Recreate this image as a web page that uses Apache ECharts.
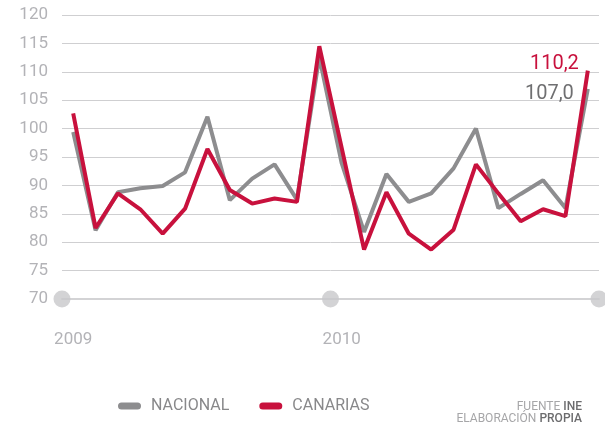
<!DOCTYPE html>
<html>
<head>
<meta charset="utf-8">
<script src="https://cdn.jsdelivr.net/npm/echarts@6/dist/echarts.min.js"></script>
<style>
	html, body { margin: 0; padding: 0; background: #ffffff; }
	#chart { width: 605px; height: 423px; }
</style>
</head>
<body>
<div id="chart"></div>
<script>
const months = [
	'2009-01', '2009-02', '2009-03', '2009-04', '2009-05', '2009-06',
	'2009-07', '2009-08', '2009-09', '2009-10', '2009-11', '2009-12',
	'2010-01', '2010-02', '2010-03', '2010-04', '2010-05', '2010-06',
	'2010-07', '2010-08', '2010-09', '2010-10', '2010-11', '2010-12'
];

const nacional = [
	99.4, 82.1, 88.8, 89.5, 89.9, 92.3, 102.1, 87.4, 91.2, 93.7, 87.5, 112.6,
	93.9, 81.8, 92.0, 87.1, 88.6, 93.0, 100.0, 86.0, 88.5, 90.9, 86.0, 107.0
];

const canarias = [
	102.7, 82.5, 88.6, 85.8, 81.5, 85.9, 96.4, 89.2, 86.8, 87.7, 87.1, 114.5,
	96.6, 78.7, 88.8, 81.5, 78.7, 82.2, 93.7, 88.6, 83.7, 85.8, 84.6, 110.2
];

// year separators on the base line (month index of each boundary)
const yearBoundaries = [-0.5, 11.5, 23.5];

const colors = {
	nacional: '#8d8d8f',
	nacionalLabel: '#6f6f71',
	canarias: '#c8113d',
	grid: '#cfcfd1',
	base: '#d3d3d5',
	dot: '#c8c8ca',
	axisText: '#b3b3b7',
	legendText: '#88888a',
	sourceLight: '#a6a6a8',
	sourceDark: '#6c6c6e'
};

const fmt = v => v.toFixed(1).replace('.', ',');

const pill = 'path://M3.5,0 H19.5 A3.5,3.5 0 0 1 19.5,7 H3.5 A3.5,3.5 0 0 1 3.5,0 Z';

// source lines: [light part, dark part]
const sourceLines = [['FUENTE', 'INE'], ['ELABORACIÓN', 'PROPIA']];

const measure = document.createElement('canvas').getContext('2d');
function textWidth(text, font) {
	measure.font = font;
	return measure.measureText(text).width;
}

function sourceGraphic() {
	const right = 582;
	const children = [];
	sourceLines.forEach(([light, dark], i) => {
		const y = 401 + i * 12;
		const darkW = textWidth(dark, '500 12px Roboto');
		const spaceW = textWidth(' ', '12px Roboto');
		children.push({
			type: 'text',
			x: right,
			y,
			style: { text: dark, align: 'right', font: '500 12px Roboto', fill: colors.sourceDark }
		});
		children.push({
			type: 'text',
			x: right - darkW - spaceW,
			y,
			style: { text: light, align: 'right', font: '12px Roboto', fill: colors.sourceLight }
		});
	});
	return children;
}

const chart = echarts.init(document.getElementById('chart'));

chart.setOption({
	animation: false,
	textStyle: { fontFamily: 'Roboto' },
	grid: { left: 62, right: 6, top: 15, bottom: 124, containLabel: false },
	legend: {
		left: 118,
		top: 398,
		padding: 0,
		itemWidth: 23,
		itemHeight: 7,
		itemGap: 30,
		textStyle: { fontSize: 16, color: colors.legendText, padding: [0, 0, 0, 5] },
		data: [
			{ name: 'NACIONAL', icon: pill },
			{ name: 'CANARIAS', icon: pill }
		]
	},
	xAxis: [
		{
			type: 'category',
			data: months,
			boundaryGap: true,
			axisLine: { show: true, lineStyle: { color: colors.base, width: 2 } },
			axisTick: { show: false },
			axisLabel: {
				interval: idx => idx % 12 === 0,
				formatter: v => v.slice(0, 4),
				color: colors.axisText,
				fontSize: 17,
				margin: 32
			},
			splitLine: { show: false }
		},
		{
			type: 'value',
			min: -0.5,
			max: 23.5,
			show: false
		}
	],
	yAxis: {
		type: 'value',
		min: 70,
		max: 120,
		interval: 5,
		axisLine: { show: false },
		axisTick: { show: false },
		axisLabel: { color: colors.axisText, fontSize: 17, margin: 14 },
		splitLine: { lineStyle: { color: colors.grid, width: 1 } }
	},
	series: [
		{
			name: 'NACIONAL',
			type: 'line',
			data: nacional,
			symbol: 'none',
			color: colors.nacional,
			lineStyle: { width: 4, color: colors.nacional },
			endLabel: {
				show: true,
				distance: 0,
				align: 'right',
				offset: [-14, 5],
				formatter: p => fmt(p.value),
				color: colors.nacionalLabel,
				fontSize: 20
			},
			z: 3
		},
		{
			name: 'CANARIAS',
			type: 'line',
			data: canarias,
			symbol: 'none',
			color: colors.canarias,
			lineStyle: { width: 4, color: colors.canarias },
			endLabel: {
				show: true,
				distance: 0,
				align: 'right',
				offset: [-9, -7],
				formatter: p => fmt(p.value),
				color: colors.canarias,
				fontSize: 20
			},
			z: 4
		},
		{
			type: 'scatter',
			xAxisIndex: 1,
			data: yearBoundaries.map(x => [x, 70]),
			symbolSize: 17,
			itemStyle: { color: colors.dot },
			clip: false,
			silent: true,
			z: 5
		}
	],
	graphic: [
		{
			type: 'group',
			silent: true,
			children: sourceGraphic()
		}
	]
});
</script>
</body>
</html>
